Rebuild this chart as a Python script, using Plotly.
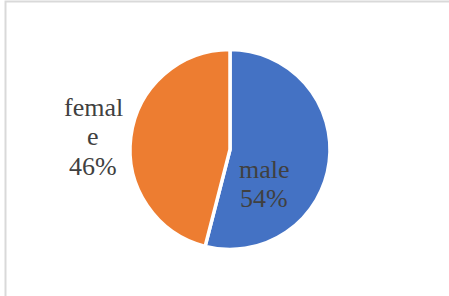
import plotly.graph_objects as go

labels = ["male", "female"]
values = [54, 46]
colors = ["#4472C4", "#ED7D31"]
label_lines = [["male"], ["femal", "e"]]

W, H = 449, 296
cx, cy, R = 230, 149.5, 100

fig = go.Figure(go.Pie(
    labels=labels, values=values, sort=False, direction="clockwise", rotation=0,
    marker=dict(colors=colors, line=dict(color="white", width=3.5)),
    textinfo="none", hoverinfo="label+percent", showlegend=False,
    domain=dict(x=[(cx - R) / W, (cx + R) / W], y=[1 - (cy + R) / H, 1 - (cy - R) / H]),
))

total = sum(values)
pcts = [round(v * 100 / total) for v in values]
# label block: x centre and first-line centre (pixels), line step
pos = [(264, 169), (93, 107)]
step = 29.5
for lines, p, (x, y0) in zip(label_lines, pcts, pos):
    for i, t in enumerate(lines + [f"{p}%"]):
        fig.add_annotation(
            x=x / W, y=1 - (y0 + i * step) / H, xref="paper", yref="paper",
            xanchor="center", yanchor="middle", text=t, showarrow=False,
            font=dict(family="Times New Roman, Liberation Serif, serif", size=26, color="#404040"),
        )

fig.add_shape(type="rect", xref="paper", yref="paper",
              x0=5.5 / W, x1=1.2, y0=-0.2, y1=1 - 1.5 / H,
              line=dict(color="#D9D9D9", width=2))

fig.update_layout(width=W, height=H, margin=dict(l=0, r=0, t=0, b=0),
                  paper_bgcolor="white", plot_bgcolor="white")
fig.write_html("out.html", config={"displayModeBar": False},
               post_script="document.body.style.margin='0px';document.body.style.overflow='hidden';")
